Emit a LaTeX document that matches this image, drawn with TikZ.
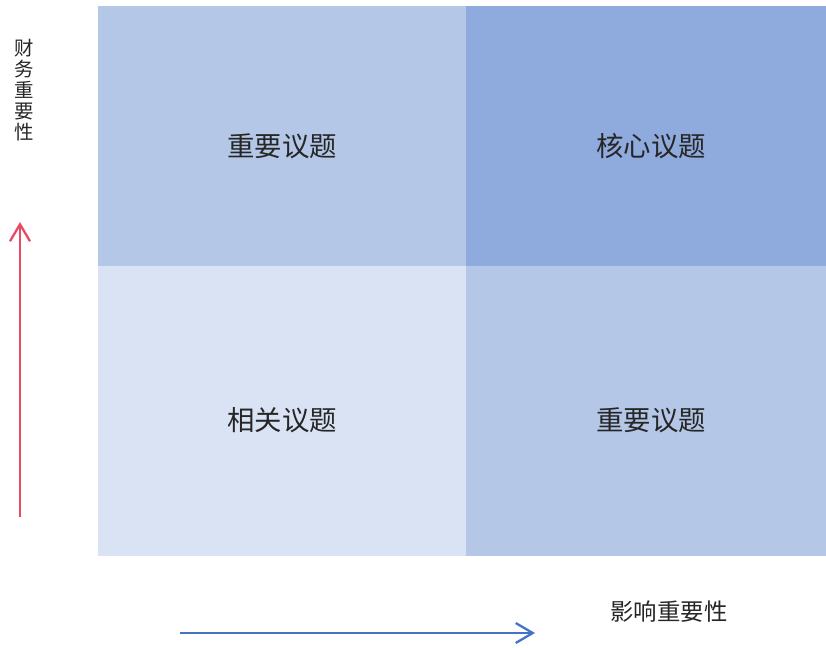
\documentclass[tikz,border=0pt]{standalone}
\usepackage{fontspec}
\newfontfamily\cjk{Noto Sans CJK SC}
\usetikzlibrary{arrows.meta}
\definecolor{qlight}{HTML}{B4C7E7}
\definecolor{qdark}{HTML}{8FAADC}
\definecolor{qpale}{HTML}{DAE3F3}
\definecolor{axred}{HTML}{E84C64}
\definecolor{axblue}{HTML}{4472C4}
\tikzset{
  quad/.style={draw=none, inner sep=0pt, anchor=north west},
  qlabel/.style={font=\cjk\fontsize{27.5}{32}\selectfont, text=black!85},
  axlabel/.style={font=\cjk\fontsize{19.5}{21}\selectfont, text=black!85},
  xlabelstyle/.style={font=\cjk\fontsize{23.5}{26}\selectfont, text=black!85},
  axarrow/.style={line width=2.5bp, -{Straight Barb[length=17bp,width=20bp,line width=2.3bp]}},
}
\begin{document}
\begin{tikzpicture}[x=1bp,y=-1bp]
\useasboundingbox (0,0) rectangle (826,648);
\node[quad, fill=qlight, minimum width=368bp, minimum height=260bp] (tl) at (98,6) {};
\node[quad, fill=qdark, minimum width=360bp, minimum height=260bp] (tr) at (466,6) {};
\node[quad, fill=qpale, minimum width=368bp, minimum height=290bp] (bl) at (98,266) {};
\node[quad, fill=qlight, minimum width=360bp, minimum height=290bp] (br) at (466,266) {};
\node[qlabel] (ltl) at (282,146) {重要议题};
\node[qlabel] (ltr) at (651,146) {核心议题};
\node[qlabel] (lbl) at (282,420) {相关议题};
\node[qlabel] (lbr) at (651,420) {重要议题};
\node[axlabel, align=center, inner sep=0pt] (ylab) at (24,90) {财\\务\\重\\要\\性};
\node[xlabelstyle, inner sep=0pt] (xlab) at (669,612) {影响重要性};
\coordinate (ys) at (20,517);
\coordinate (ye) at (20,222);
\coordinate (xs) at (180,633);
\coordinate (xe) at (535,633);
\draw[axarrow, axred] (ys) -- (ye);
\draw[axarrow, axblue] (xs) -- (xe);
\end{tikzpicture}
\end{document}
